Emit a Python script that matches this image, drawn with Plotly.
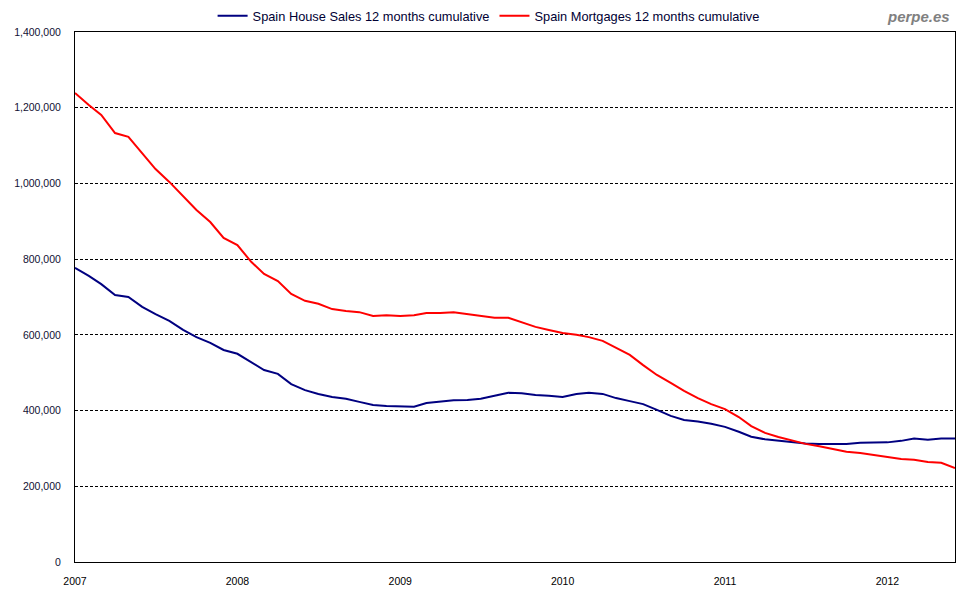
import pandas as pd
import plotly.graph_objects as go

months = pd.date_range("2007-01-01", "2012-06-01", freq="MS")

house_sales = [
    777000, 756000, 734000, 705000, 700000, 674000, 655000, 637000, 613000, 594000,
    579000, 560000, 550000, 528000, 507000, 497000, 470000, 454000, 444000, 436000,
    431000, 423000, 415000, 412000, 411000, 410000, 420000, 423000, 427000, 428000,
    431000, 439000, 447000, 446000, 441000, 439000, 436000, 444000, 447000, 444000,
    433000, 425000, 417000, 402000, 386000, 375000, 371000, 365000, 357000, 344000,
    331000, 324000, 320000, 317000, 313000, 312000, 312000, 312000, 315000, 315000,
    316000, 320000, 326000, 323000, 326000, 326000,
]

mortgages = [
    1239000, 1207000, 1181000, 1133000, 1123000, 1080000, 1038000, 1004000, 967000, 930000,
    898000, 856000, 837000, 793000, 761000, 742000, 708000, 690000, 682000, 668000,
    663000, 660000, 650000, 652000, 650000, 652000, 658000, 658000, 660000, 655000,
    650000, 645000, 645000, 634000, 621000, 613000, 605000, 600000, 594000, 584000,
    565000, 547000, 520000, 494000, 473000, 452000, 433000, 417000, 404000, 383000,
    359000, 341000, 330000, 320000, 312000, 306000, 299000, 291000, 288000, 283000,
    277000, 272000, 270000, 264000, 262000, 248000,
]

series_names = ["Spain House Sales 12 months cumulative", "Spain Mortgages 12 months cumulative"]
year_ticks = ["2007-01-01", "2008-01-01", "2009-01-01", "2010-01-01", "2011-01-01", "2012-01-01"]
year_labels = ["2007", "2008", "2009", "2010", "2011", "2012"]

fig = go.Figure()
fig.add_trace(go.Scatter(x=months, y=house_sales, mode="lines", name=series_names[0],
                         line=dict(color="#000080", width=2)))
fig.add_trace(go.Scatter(x=months, y=mortgages, mode="lines", name=series_names[1],
                         line=dict(color="#FF0000", width=2)))

fig.update_layout(
    width=972, height=592,
    margin=dict(l=67, r=25, t=24, b=38, autoexpand=False),
    paper_bgcolor="white", plot_bgcolor="white",
    font=dict(family="Liberation Sans, Arial, sans-serif", size=12, color="#000000"),
    showlegend=True,
    legend=dict(orientation="h", x=0.47, xanchor="center", y=1.0 + 16 / 530, yanchor="middle",
                font=dict(size=12.8, color="#000033"), itemwidth=30, bgcolor="rgba(0,0,0,0)",
                tracegroupgap=0),
    annotations=[dict(text="<b><i>perpe.es</i></b>", xref="paper", yref="paper",
                      x=1.0, y=1.0, xanchor="right", yanchor="middle", yshift=16, xshift=-3,
                      showarrow=False, font=dict(size=15, color="#808080"))],
)
fig.update_xaxes(
    type="date", range=["2007-01-01", "2012-06-01"],
    tickvals=year_ticks, ticktext=year_labels,
    showgrid=False, showline=True, linecolor="black", linewidth=1, mirror=True,
    ticks="", tickfont=dict(size=10.5), zeroline=False, ticklabelstandoff=9,
)
fig.update_yaxes(
    range=[0, 1400000], dtick=200000, tickformat=",d",
    showgrid=True, gridcolor="black", griddash="3px,2px", gridwidth=1,
    showline=True, linecolor="black", linewidth=1, mirror=True,
    ticks="", tickfont=dict(size=10.5, color="#111133"), zeroline=False, ticklabelstandoff=11,
)

fig.write_html("out.html")
